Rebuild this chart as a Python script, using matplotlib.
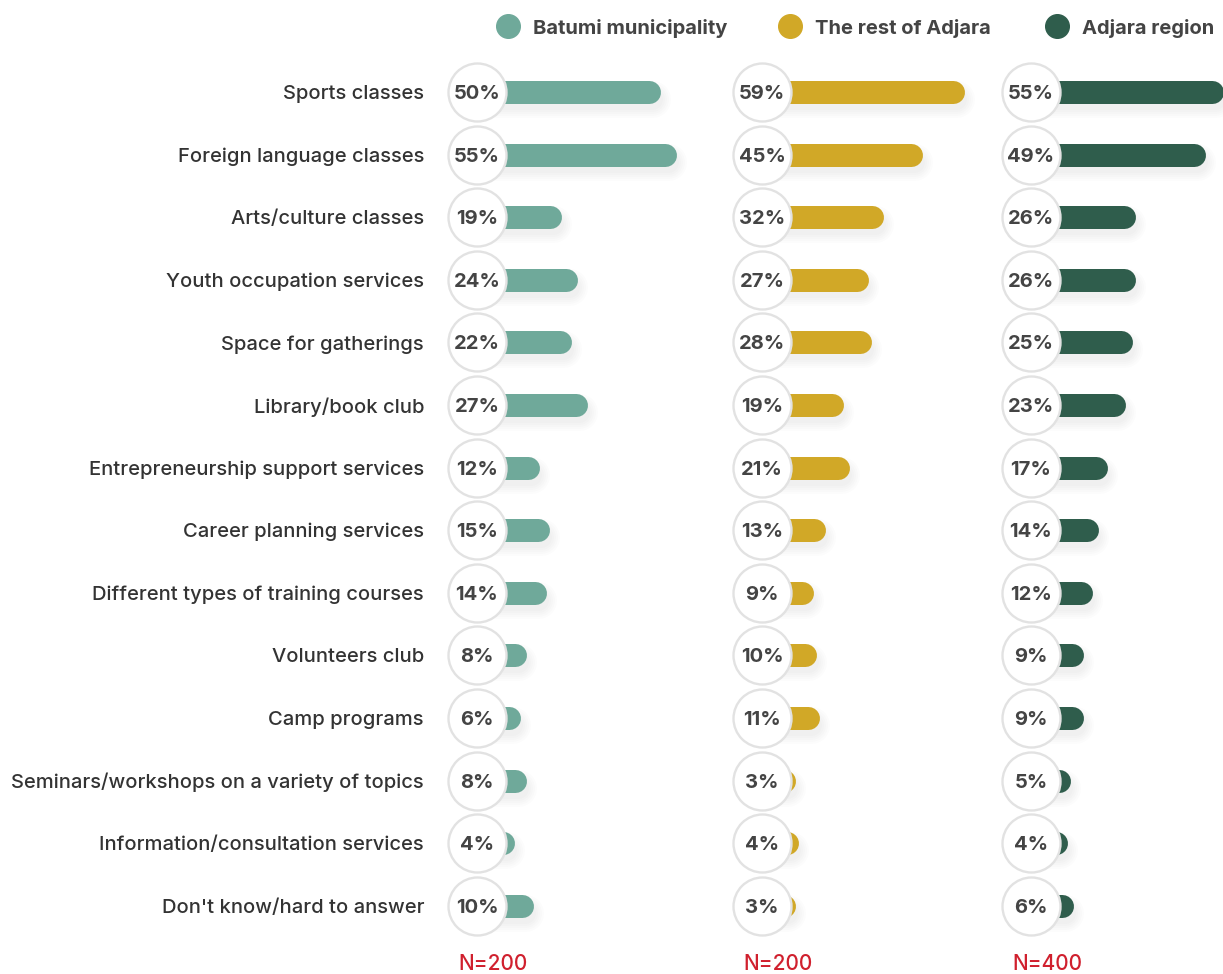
import matplotlib
matplotlib.use("Agg")
import matplotlib.pyplot as plt
from matplotlib import transforms
from matplotlib.lines import Line2D

plt.rcParams['font.family'] = ['Inter', 'DejaVu Sans']

categories = [
    "Sports classes", "Foreign language classes", "Arts/culture classes",
    "Youth occupation services", "Space for gatherings", "Library/book club",
    "Entrepreneurship support services", "Career planning services",
    "Different types of training courses", "Volunteers club", "Camp programs",
    "Seminars/workshops on a variety of topics", "Information/consultation services",
    "Don't know/hard to answer",
]
series_names = ["Batumi municipality", "The rest of Adjara", "Adjara region"]
batumi = [50, 55, 19, 24, 22, 27, 12, 15, 14, 8, 6, 8, 4, 10]
rest_of_adjara = [59, 45, 32, 27, 28, 19, 21, 13, 9, 10, 11, 3, 4, 3]
adjara_region = [55, 49, 26, 26, 25, 23, 17, 14, 12, 9, 9, 5, 4, 6]
sample_sizes = ["N=200", "N=200", "N=400"]

series = [batumi, rest_of_adjara, adjara_region]
colors = ["#6fa99a", "#d1a827", "#2f5d4c"]

W, H = 1223, 974
fig = plt.figure(figsize=(W / 100, H / 100), dpi=100)

# layout (pixels): circle centre x, px per percent
centers = [477, 762, 1031]
scales = [3.18, 3.02, 3.06]
row_top = 92
row_step = 62.6
n = len(categories)
ylim = ((H - row_top) / row_step, -row_top / row_step)

bar_lw_px = 23
bar_lw = bar_lw_px * 0.72
circ_d = 58 * 0.72

axes = []
for p, (vals, col) in enumerate(zip(series, colors)):
    ax = fig.add_axes([0, 0, 1, 1])
    ax.patch.set_alpha(0)
    a = centers[p] + 13
    k = scales[p]
    ax.set_xlim((0 - a) / k, (W - a) / k)
    ax.set_ylim(*ylim)
    ax.axis('off')
    cx = (centers[p] - a) / k
    tr = transforms.offset_copy(ax.transData, fig=fig, x=3, y=-7, units='dots')
    for i, v in enumerate(vals):
        # soft shadow
        for extra in [20, 16, 12, 8, 4]:
            ax.plot([cx + 2, v], [i, i], color='#000000', alpha=0.012,
                    lw=(bar_lw_px + extra - 6) * 0.72, solid_capstyle='round',
                    transform=tr, zorder=1)
        ax.plot([cx, v], [i, i], color=col, lw=bar_lw, solid_capstyle='round', zorder=2)
    ax.scatter([cx] * n, range(n), s=circ_d ** 2, facecolor='white',
               edgecolor='#e2e2e2', linewidth=1.7, zorder=3)
    for i, v in enumerate(vals):
        ax.text(cx, i, f"{v}%", ha='center', va='center_baseline', fontsize=14.5,
                fontweight='bold', color='#444444', zorder=4)
    axes.append(ax)

# category labels
btr = transforms.blended_transform_factory(fig.transFigure, axes[0].transData)
for i, c in enumerate(categories):
    fig.text(424 / W, i, c, transform=btr, ha='right', va='center_baseline',
             fontsize=14.5, fontweight='medium', color='#333333')

# sample sizes
for p, s in enumerate(sample_sizes):
    fig.text((centers[p] + 16) / W, 1 - 964 / H, s, ha='center', va='center',
             fontsize=15, fontweight='medium', color='#d0202e')

# legend
leg_x = [508, 790, 1057]
for p, name in enumerate(series_names):
    fig.add_artist(Line2D([leg_x[p] / W], [1 - 26 / H], marker='o', markersize=17,
                          color=colors[p], transform=fig.transFigure, linestyle='none'))
    fig.text((leg_x[p] + 25) / W, 1 - 26 / H, name, ha='left', va='center_baseline',
             fontsize=14.5, fontweight='bold', color='#444444')

fig.savefig("out.png", dpi=100)
